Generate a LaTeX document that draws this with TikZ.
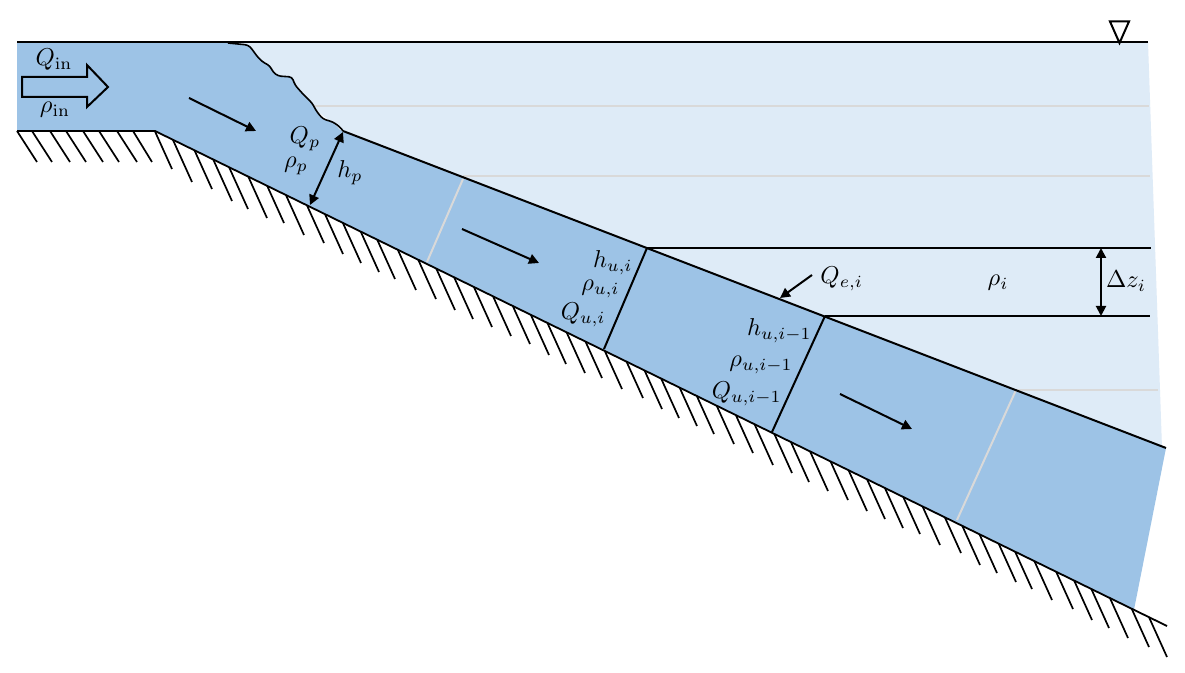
\documentclass[tikz,border=0pt]{standalone}
\usetikzlibrary{arrows.meta}
\definecolor{flowblue}{HTML}{9DC3E6}
\definecolor{ambient}{HTML}{DEEBF7}
\definecolor{guide}{HTML}{D9D9D9}
\tikzset{
  px/.style={x=0.5pt,y=-0.5pt},
  blk/.style={black,line width=1pt},
  hatch/.style={black,line width=0.85pt},
  gline/.style={guide,line width=1pt},
  arr/.style={black,line width=1pt,-{Triangle[length=5pt,width=5pt]}},
  darr/.style={black,line width=1pt,{Triangle[length=5pt,width=5pt]}-{Triangle[length=5pt,width=5pt]}},
  lab/.style={inner sep=0pt,text=black,scale=1.22}
}
\begin{document}
\begin{tikzpicture}[px]
\useasboundingbox (0,0) rectangle (1185,673);
\fill[white] (0,0) rectangle (1185,673);
% key points
\coordinate (tl) at (17,42);
\coordinate (bl) at (17,131);
\coordinate (bk) at (155,131);
\coordinate (bedend) at (1167,626);
\coordinate (fb) at (1134,609.7);
\coordinate (fr) at (1166,448);
\coordinate (front) at (343,131);
\coordinate (wstart) at (228,43);
\coordinate (tr) at (1148,42);
\coordinate (ar) at (1162,448);
\coordinate (ui) at (647,248);
\coordinate (uib) at (604,349);
\coordinate (uj) at (825,316);
\coordinate (ujb) at (772,432);
% ambient fluid
\fill[ambient] (wstart) -- (tr) -- (ar) -- (fr) -- (front) -- cycle;
% guides in ambient
\draw[gline] (313,106) -- (1149,106);
\draw[gline] (463,176) -- (1150,176);
\draw[gline] (1015,390) -- (1158,390);
% current
\fill[flowblue] (tl) -- (wstart) -- (248,45) -- (252,49) -- (256,55) -- (262,61.5) -- (270,66) -- (273,72) -- (278,76) -- (292,77) -- (295,85) -- (302,93) -- (312,103) -- (317,112) -- (323,119) -- (333,122) -- (340,130) -- (front) -- (fr) -- (fb) -- (bk) -- (bl) -- cycle;
% guides in current
\draw[gline] (463,179) -- (427,262);
\draw[gline] (1016,390) -- (957,520);
% wavy front
\draw[blk,line width=0.8pt,rounded corners=1.5pt] (wstart) -- (248,45) -- (252,49) -- (256,55) -- (262,61.5) -- (270,66) -- (273,72) -- (278,76) -- (292,77) -- (295,85) -- (302,93) -- (312,103) -- (317,112) -- (323,119) -- (333,122) -- (340,127) -- (front);
% outlines
\draw[blk] (tl) -- (tr);
\draw[blk,line width=0.9pt] (bl) -- (bk) -- (bedend);
\draw[blk] (front) -- (fr);
\draw[blk] (ui) -- (1151,248);
\draw[blk] (uj) -- (1150,316);
\draw[blk] (ui) -- (uib);
\draw[blk] (uj) -- (ujb);
% hatching on the flat part
\foreach \a/\b in {17/37,32/52,50/70,66/86,83/103,99/119,117/137,133/152}
  \draw[hatch] (\a,131) -- (\b,162);
% hatching on the slope: free ends, upper ends found on the bed
\foreach \ex/\ey in {172/169,192/182,212/189,232/201,248/209,267/218,284/223,304/235,324/243,343/254,361/263,379/272,395/279,416/290,436/299,455/310,473/319,492/327,511/336,530/344,549/355,566/364,585/373,602/378,622/389,643/398,662/409,679/418,697/426,714/434,734/444,753/453,773/465,792/473,809/482,828/491,848/500,867/511,885/519,903/528,920/534,940/545,961/553,980/565,997/573,1016/582,1032/589,1052/600,1073/609,1092/620,1109/628,1128/638,1149/647,1167/657}{
  \pgfmathsetmacro{\t}{(\ey-131-0.489*(\ex-155))/29.6}
  \pgfmathsetmacro{\sx}{\ex-17.2*\t}
  \pgfmathsetmacro{\sy}{\ey-38*\t}
  \draw[hatch] (\sx,\sy) -- (\ex,\ey);
}
% inflow block arrow
\draw[blk,line join=miter] (22,77) -- (87,77) -- (87,65) -- (108,87) -- (87,107) -- (87,97) -- (22,97) -- cycle;
% flow arrows
\coordinate (fa1) at (189,98); \coordinate (fa2) at (256,131);
\coordinate (fb1) at (462,229); \coordinate (fb2) at (539,263);
\coordinate (fc1) at (840,394); \coordinate (fc2) at (912,429);
\draw[arr] (fa1) -- (fa2);
\draw[arr] (fb1) -- (fb2);
\draw[arr] (fc1) -- (fc2);
\coordinate (hp1) at (343,132); \coordinate (hp2) at (310,205);
\draw[darr] (hp1) -- (hp2);
\coordinate (qe1) at (812,275); \coordinate (qe2) at (780,298);
\draw[arr] (qe1) -- (qe2);
\coordinate (dz1) at (1101,248); \coordinate (dz2) at (1101,316);
\draw[darr] (dz1) -- (dz2);
% water level symbol
\draw[blk,line join=miter] (1110,21.5) -- (1129,21.5) -- (1119.5,43) -- cycle;
% labels
\node[lab] (qin) at (54,60) {$Q_{\mathrm{in}}$};
\node[lab] (rin) at (55,110) {$\rho_{\mathrm{in}}$};
\node[lab] (qp) at (305,139) {$Q_p$};
\node[lab] (rp) at (296,166) {$\rho_p$};
\node[lab] (hp) at (350,173) {$h_p$};
\node[lab,anchor=east] (hui) at (633,263) {$h_{u,i}$};
\node[lab,anchor=east] (rui) at (620,289) {$\rho_{u,i}$};
\node[lab,anchor=east] (qui) at (606,315) {$Q_{u,i}$};
\node[lab,anchor=east] (huj) at (812,331) {$h_{u,i-1}$};
\node[lab,anchor=east] (ruj) at (793,365) {$\rho_{u,i-1}$};
\node[lab,anchor=east] (quj) at (782,394) {$Q_{u,i-1}$};
\node[lab,anchor=west] (qei) at (820,279) {$Q_{e,i}$};
\node[lab] (ri) at (998,283) {$\rho_i$};
\node[lab] (dzi) at (1126,281) {$\Delta z_i$};
\end{tikzpicture}
\end{document}
